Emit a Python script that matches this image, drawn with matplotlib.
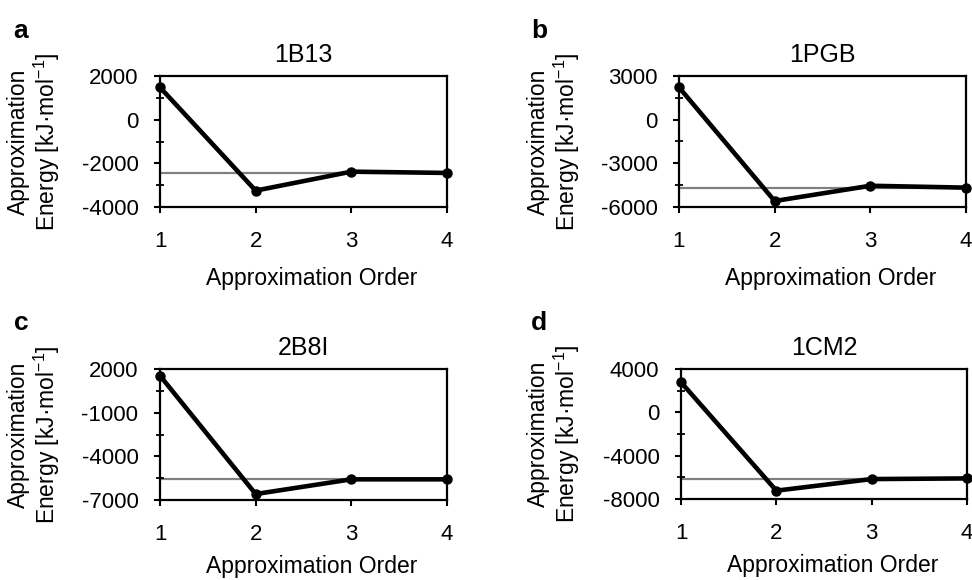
import matplotlib
matplotlib.use("Agg")
import matplotlib.pyplot as plt
import numpy as np

plt.rcParams['font.family'] = ['Liberation Sans', 'DejaVu Sans']
plt.rcParams['mathtext.fontset'] = 'custom'
plt.rcParams['mathtext.rm'] = 'Liberation Sans'
plt.rcParams['axes.unicode_minus'] = False

# data
orders = [1, 2, 3, 4]
names = ['1B13', '1PGB', '2B8I', '1CM2']
letters = ['a', 'b', 'c', 'd']
energy_1B13 = [1480, -3250, -2380, -2440]
energy_1PGB = [2220, -5590, -4540, -4670]
energy_2B8I = [1540, -6590, -5580, -5580]
energy_1CM2 = [2780, -7230, -6160, -6100]
reference = [-2440, -4670, -5580, -6130]
y_limits = [(-4000, 2000), (-6000, 3000), (-7000, 2000), (-8000, 4000)]
y_major = [2000, 3000, 3000, 4000]
y_minor = [1000, 1500, 1500, 2000]

energies = [energy_1B13, energy_1PGB, energy_2B8I, energy_1CM2]

W, H = 972, 580
fig = plt.figure(figsize=(W / 100, H / 100), dpi=100)

# axes boxes in pixels: left, top, right, bottom
boxes = [(160, 76, 447, 207), (679, 76, 966, 207),
         (160, 369, 447, 500), (681, 369, 967, 499)]
letter_pos = [(21, 31), (539, 31), (21, 323), (539, 323)]
label_right = [62, 582, 62, 582]
xlabel_y = [-0.46, -0.46, -0.42, -0.42]

for i in range(4):
    l, t, r, b = boxes[i]
    ax = fig.add_axes([l / W, 1 - b / H, (r - l) / W, (b - t) / H])
    ax.axhline(reference[i], color='#808080', lw=1.6, zorder=1)
    ax.plot(orders, energies[i], color='black', lw=3.3, marker='o',
            markersize=6.5, clip_on=False, zorder=3)
    lo, hi = y_limits[i]
    ax.set_xlim(1, 4)
    ax.set_ylim(lo, hi)
    ax.set_xticks(orders)
    ax.set_yticks(np.arange(lo, hi + 1, y_major[i]))
    ax.set_yticks(np.arange(lo, hi + 1, y_minor[i]), minor=True)
    ax.tick_params(axis='both', which='major', direction='out', length=4.5,
                   width=1.5, labelsize=16)
    ax.tick_params(axis='x', which='major', pad=13)
    ax.tick_params(axis='y', which='major', pad=11)
    ax.tick_params(axis='y', which='minor', direction='inout', length=6,
                   width=1.3)
    for sp in ax.spines.values():
        sp.set_linewidth(1.6)
    ax.set_title(names[i], fontsize=18, pad=10)
    ax.set_xlabel('Approximation Order', fontsize=16.5)
    ax.xaxis.set_label_coords(0.53, xlabel_y[i])
    ax.set_ylabel('Approximation\nEnergy [kJ·mol$^{\\mathregular{-1}}$]',
                  fontsize=16.5, linespacing=1.1)
    ax.yaxis.set_label_coords((label_right[i] - l) / (r - l), 0.5)
    fig.text(letter_pos[i][0] / W, 1 - letter_pos[i][1] / H, letters[i],
             fontsize=19, fontweight='bold', ha='center', va='center')

fig.savefig('out.png', dpi=100)
